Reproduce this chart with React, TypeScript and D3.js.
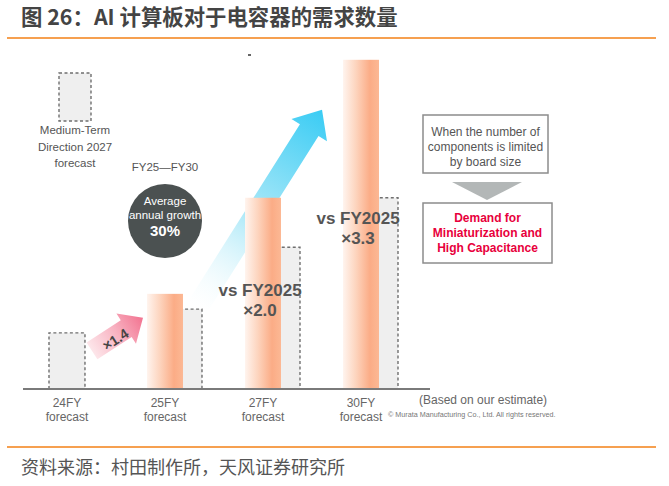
import React from "react";
import * as d3 from "d3";

const categories = ["24FY", "25FY", "27FY", "30FY"];
const forecastValues: (number | null)[] = [null, 100, 201, 346];
const midTermValues = [59, 84, 149, 201];
const multipliers = ["×1.4", "×2.0", "×3.3"];
const titleText = "图 26：AI 计算板对于电容器的需求数量";
const sourceText = "资料来源：村田制作所，天风证券研究所";

const W = 669;
const H = 486;
const LATIN = "'Liberation Sans', Arial, sans-serif";
const CJK = "'Noto Sans CJK SC', 'Noto Sans', sans-serif";

function arrowPath(x0: number, y0: number, x1: number, y1: number, sh: number, hh: number, hl: number) {
  const dx = x1 - x0, dy = y1 - y0;
  const L = Math.hypot(dx, dy);
  const ux = dx / L, uy = dy / L;
  const px = -uy, py = ux;
  const bx = x1 - ux * hl, by = y1 - uy * hl;
  const pts = [
    [x0 + px * sh, y0 + py * sh],
    [bx + px * sh, by + py * sh],
    [bx + px * hh, by + py * hh],
    [x1, y1],
    [bx - px * hh, by - py * hh],
    [bx - px * sh, by - py * sh],
    [x0 - px * sh, y0 - py * sh],
  ];
  return d3.line()(pts as [number, number][]) + "Z";
}

export default function App() {
  const x = d3.scaleBand<string>().domain(categories).range([49, 379]).paddingInner(0.633).paddingOuter(0);
  const y = d3.scaleLinear().domain([0, 350]).range([389, 56]);
  const bw = x.bandwidth();
  const off = 19;
  const base = y(0);

  const bStart: [number, number] = [x("25FY")! + bw + 14, y(forecastValues[1]!) + 14];
  const bTip: [number, number] = [x("30FY")! - 21, y(forecastValues[3]!) + 50];
  const pStart: [number, number] = [x("24FY")! + bw + 7, y(midTermValues[0]) + 18];
  const pTip: [number, number] = [x("25FY")! - 4, y(forecastValues[1]!) + 24];
  const pAng = (Math.atan2(pTip[1] - pStart[1], pTip[0] - pStart[0]) * 180) / Math.PI;
  const pcx = (pStart[0] + pTip[0]) / 2 - 2;
  const pcy = (pStart[1] + pTip[1]) / 2 + 5;

  const dashedBar = (i: number) => {
    const c = categories[i];
    const left = forecastValues[i] == null ? x(c)! : x(c)! + off;
    const top = y(midTermValues[i]);
    return (
      <g key={"m" + c}>
        <rect x={left} y={top} width={bw} height={base - top} fill="#efefef" />
        <path
          d={`M${left},${base}V${top}H${left + bw}V${base}`}
          fill="none"
          stroke="#6f6f6f"
          strokeWidth={1.4}
          strokeDasharray="3,2.5"
        />
      </g>
    );
  };

  return (
    <svg width={W} height={H} style={{ position: "absolute", left: 0, top: 0, background: "#fff" }}>
      <defs>
        <linearGradient id="og" x1="0" x2="1" y1="0" y2="0">
          <stop offset="0" stopColor="#fff4ee" />
          <stop offset="0.35" stopColor="#fdd5bf" />
          <stop offset="0.75" stopColor="#fbac86" />
          <stop offset="1" stopColor="#fcb894" />
        </linearGradient>
        <linearGradient id="bg" gradientUnits="userSpaceOnUse" x1={bStart[0]} y1={bStart[1]} x2={bTip[0]} y2={bTip[1]}>
          <stop offset="0" stopColor="#ffffff" stopOpacity="0.2" />
          <stop offset="0.45" stopColor="#aee9f8" />
          <stop offset="1" stopColor="#3accf4" />
        </linearGradient>
        <linearGradient id="pg" gradientUnits="userSpaceOnUse" x1={pStart[0]} y1={pStart[1]} x2={pTip[0]} y2={pTip[1]}>
          <stop offset="0" stopColor="#fde6ea" />
          <stop offset="0.5" stopColor="#f8b3c2" />
          <stop offset="1" stopColor="#f27390" />
        </linearGradient>
      </defs>

      {/* Title */}
      <text x={21} y={25} fontFamily={CJK} fontWeight={700} fontSize={21.4} fill="#444">
        {titleText}
      </text>
      <line x1={7} x2={656} y1={38} y2={38} stroke="#f6a050" strokeWidth={2} />

      <rect x={248} y={54} width={3} height={2} fill="#666" />

      {/* Blue arrow */}
      <path d={arrowPath(bStart[0], bStart[1], bTip[0], bTip[1], 11, 21, 24)} fill="url(#bg)" />

      {/* Mid-term dashed bars */}
      {categories.map((_, i) => dashedBar(i))}

      {/* Forecast bars */}
      {categories.map((c, i) =>
        forecastValues[i] == null ? null : (
          <rect key={"f" + c} x={x(c)} y={y(forecastValues[i]!)} width={bw} height={base - y(forecastValues[i]!)} fill="url(#og)" />
        )
      )}

      {/* Axis */}
      <line x1={23} x2={430} y1={base} y2={base} stroke="#7a7a7a" strokeWidth={2} />
      {categories.map((c) => (
        <g key={"l" + c} fontFamily={LATIN} fontSize={12} fill="#666" textAnchor="middle">
          <text x={x(c)! + bw / 2} y={407}>{c}</text>
          <text x={x(c)! + bw / 2} y={421}>forecast</text>
        </g>
      ))}
      <text x={419} y={404} fontFamily={LATIN} fontSize={12} fill="#666">(Based on our estimate)</text>
      <text x={388} y={417} fontFamily={LATIN} fontSize={7.2} fill="#777">© Murata Manufacturing Co., Ltd. All rights reserved.</text>

      {/* Legend */}
      <rect x={59} y={73} width={32} height={48} fill="#efefef" stroke="#6f6f6f" strokeWidth={1.4} strokeDasharray="3,2.5" />
      <g fontFamily={LATIN} fontSize={11.5} fill="#555" textAnchor="middle">
        <text x={75} y={134}>Medium-Term</text>
        <text x={75} y={151}>Direction 2027</text>
        <text x={75} y={167}>forecast</text>
      </g>

      {/* Growth circle */}
      <text x={165} y={171} fontFamily={LATIN} fontSize={11.5} fill="#555" textAnchor="middle">FY25—FY30</text>
      <circle cx={165} cy={221} r={37} fill="#4b5151" />
      <g fontFamily={LATIN} fill="#fff" textAnchor="middle">
        <text x={165} y={205} fontSize={11.5}>Average</text>
        <text x={165} y={219} fontSize={11.5}>annual growth</text>
        <text x={165} y={236} fontSize={15} fontWeight={700}>30%</text>
      </g>

      {/* Pink arrow */}
      <path d={arrowPath(pStart[0], pStart[1], pTip[0], pTip[1], 10, 18, 20)} fill="url(#pg)" />
      <text
        x={pcx}
        y={pcy + 5}
        transform={`rotate(${pAng} ${pcx} ${pcy})`}
        fontFamily={LATIN}
        fontWeight={700}
        fontSize={14}
        fill="#444"
        textAnchor="middle"
      >
        {multipliers[0]}
      </text>

      {/* vs labels */}
      <g fontFamily={LATIN} fontWeight={700} fontSize={17} fill="#555" textAnchor="middle">
        <text x={x("27FY")! + 15} y={296}>vs FY2025</text>
        <text x={x("27FY")! + 15} y={316}>{multipliers[1]}</text>
        <text x={x("30FY")! + 15} y={224}>vs FY2025</text>
        <text x={x("30FY")! + 15} y={244}>{multipliers[2]}</text>
      </g>

      {/* Right boxes */}
      <rect x={423} y={115} width={125} height={58} fill="#fff" stroke="#8c8c8c" strokeWidth={1.5} />
      <g fontFamily={LATIN} fontSize={12} fill="#555" textAnchor="middle">
        <text x={485.5} y={136}>When the number of</text>
        <text x={485.5} y={151}>components is limited</text>
        <text x={485.5} y={166}>by board size</text>
      </g>
      <path d="M452,182H522L487,200Z" fill="#b3b7b7" />
      <rect x={423} y={203} width={129} height={60} fill="#fff" stroke="#8c8c8c" strokeWidth={1.5} />
      <g fontFamily={LATIN} fontSize={12} fontWeight={700} fill="#e8003c" textAnchor="middle">
        <text x={487.5} y={222}>Demand for</text>
        <text x={487.5} y={237}>Miniaturization and</text>
        <text x={487.5} y={252}>High Capacitance</text>
      </g>

      {/* Footer */}
      <line x1={7} x2={656} y1={447} y2={447} stroke="#f6a050" strokeWidth={2} />
      <text x={21} y={474} fontFamily={CJK} fontSize={18} fill="#555">
        {sourceText}
      </text>
    </svg>
  );
}
